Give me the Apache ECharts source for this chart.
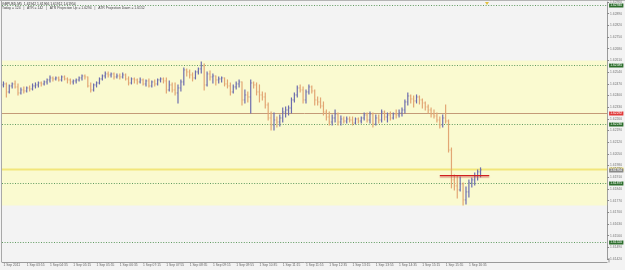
<!DOCTYPE html>
<html><head><meta charset="utf-8">
<script src="https://cdn.jsdelivr.net/npm/echarts/dist/echarts.min.js"></script>
<style>html,body{margin:0;padding:0;background:#f3f3f3;}#c{width:625px;height:270px;}</style>
</head><body><div id="c"></div>
<script>
const symbolLine = 'GBPUSD,M5  1.61942 1.61966 1.61912 1.61954';
const infoLine = 'Today = 124   |   ATR = 142   |   ATR Projection Up = 1.6294   |   ATR Projection Down = 1.6152';
const tickLabels = ['1 Sep 2011','1 Sep 03:55','1 Sep 04:35','1 Sep 05:15','1 Sep 05:55','1 Sep 06:35','1 Sep 07:15','1 Sep 07:55','1 Sep 08:35','1 Sep 09:15','1 Sep 09:55','1 Sep 10:35','1 Sep 11:15','1 Sep 11:55','1 Sep 12:35','1 Sep 13:15','1 Sep 13:55','1 Sep 14:35','1 Sep 15:15','1 Sep 15:55','1 Sep 16:35'];
const firstBarTime = '03:15';
const barMinutes = 5;
const emptySlots = 43;
// OHLC: [open, high, low, close]
const bars = [
[1.62463,1.62481,1.62451,1.62469],[1.62469,1.62475,1.62391,1.62421],[1.62421,1.62463,1.62415,1.62457],[1.62457,1.62475,1.62445,1.62469],
[1.62469,1.62487,1.62445,1.62451],[1.62451,1.62469,1.62403,1.62415],[1.62415,1.62445,1.62409,1.62433],[1.62433,1.62451,1.62415,1.62427],
[1.62427,1.62451,1.62421,1.62445],[1.62445,1.62457,1.62427,1.62439],[1.62439,1.62469,1.62433,1.62457],[1.62457,1.62475,1.62445,1.62463],
[1.62463,1.62481,1.62451,1.62475],[1.62475,1.62481,1.62457,1.62469],[1.62469,1.62487,1.62463,1.62481],[1.62481,1.62499,1.62469,1.62493],
[1.62493,1.62517,1.62481,1.62505],[1.62505,1.62511,1.62487,1.62499],[1.62499,1.62511,1.62493,1.62505],[1.62505,1.62511,1.62487,1.62493],
[1.62493,1.62517,1.62487,1.62511],[1.62511,1.62517,1.62493,1.62499],[1.62499,1.62505,1.62475,1.62493],[1.62493,1.62499,1.62469,1.62481],
[1.62481,1.62493,1.62469,1.62487],[1.62487,1.62499,1.62475,1.62493],[1.62493,1.62511,1.62487,1.62505],[1.62505,1.62523,1.62493,1.62517],
[1.62517,1.62523,1.62499,1.62511],[1.62511,1.62511,1.62451,1.62457],[1.62457,1.62475,1.62421,1.62433],[1.62433,1.62469,1.62427,1.62463],
[1.62463,1.62481,1.62451,1.62475],[1.62475,1.62505,1.62469,1.62499],[1.62499,1.62523,1.62493,1.62517],[1.62517,1.62541,1.62505,1.62529],
[1.62529,1.62541,1.62511,1.62523],[1.62523,1.62535,1.62511,1.62529],[1.62529,1.62535,1.62499,1.62511],[1.62511,1.62529,1.62505,1.62517],
[1.62517,1.62529,1.62499,1.62511],[1.62511,1.62535,1.62505,1.62523],[1.62523,1.62529,1.62493,1.62499],[1.62499,1.62511,1.62463,1.62475],
[1.62475,1.62505,1.62469,1.62499],[1.62499,1.62505,1.62475,1.62493],[1.62493,1.62499,1.62469,1.62481],[1.62481,1.62505,1.62475,1.62493],
[1.62493,1.62499,1.62463,1.62469],[1.62469,1.62493,1.62457,1.62487],[1.62487,1.62499,1.62451,1.62457],[1.62457,1.62487,1.62451,1.62481],
[1.62481,1.62493,1.62457,1.62469],[1.62469,1.62499,1.62463,1.62493],[1.62493,1.62505,1.62481,1.62499],[1.62499,1.62505,1.62475,1.62487],
[1.62487,1.62505,1.62415,1.62433],[1.62433,1.62487,1.62427,1.62463],[1.62463,1.62475,1.62421,1.62433],[1.62433,1.62475,1.62403,1.62415],
[1.62415,1.62463,1.62355,1.62445],[1.62445,1.62493,1.62427,1.62481],[1.62481,1.62565,1.62463,1.62553],[1.62553,1.62559,1.62517,1.62541],
[1.62541,1.62553,1.62505,1.62523],[1.62523,1.62535,1.62487,1.62505],[1.62505,1.62547,1.62499,1.62541],[1.62541,1.62565,1.62529,1.62559],
[1.62559,1.62601,1.62535,1.62577],[1.62577,1.62589,1.62433,1.62463],[1.62463,1.62541,1.62457,1.62529],[1.62529,1.62547,1.62493,1.62511],
[1.62511,1.62529,1.62475,1.62517],[1.62517,1.62517,1.62463,1.62493],[1.62493,1.62511,1.62475,1.62499],[1.62499,1.62511,1.62481,1.62505],
[1.62505,1.62505,1.62457,1.62469],[1.62469,1.62493,1.62445,1.62457],[1.62457,1.62475,1.62403,1.62421],[1.62421,1.62463,1.62415,1.62451],
[1.62451,1.62481,1.62439,1.62469],[1.62469,1.62493,1.62451,1.62481],[1.62481,1.62481,1.62343,1.62373],[1.62373,1.62433,1.62355,1.62403],
[1.62403,1.62421,1.62361,1.62391],[1.62391,1.62493,1.62295,1.62475],[1.62475,1.62481,1.62445,1.62463],[1.62463,1.62475,1.62403,1.62421],
[1.62421,1.62463,1.62361,1.62403],[1.62403,1.62421,1.62373,1.62391],[1.62391,1.62415,1.62325,1.62343],[1.62343,1.62355,1.62253,1.62265],
[1.62265,1.62301,1.62193,1.62223],[1.62223,1.62295,1.62193,1.62253],[1.62253,1.62271,1.62211,1.62241],[1.62241,1.62283,1.62217,1.62265],
[1.62265,1.62325,1.62241,1.62301],[1.62301,1.62331,1.62271,1.62313],[1.62313,1.62337,1.62283,1.62325],[1.62325,1.62385,1.62295,1.62373],
[1.62373,1.62415,1.62361,1.62403],[1.62403,1.62457,1.62391,1.62445],[1.62445,1.62463,1.62421,1.62433],[1.62433,1.62451,1.62355,1.62373],
[1.62373,1.62433,1.62355,1.62421],[1.62421,1.62463,1.62409,1.62451],[1.62451,1.62457,1.62415,1.62427],[1.62427,1.62433,1.62343,1.62373],
[1.62373,1.62391,1.62343,1.62361],[1.62361,1.62385,1.62325,1.62337],[1.62337,1.62361,1.62283,1.62301],[1.62301,1.62313,1.62253,1.62271],
[1.62271,1.62301,1.62223,1.62241],[1.62241,1.62283,1.62223,1.62265],[1.62265,1.62313,1.62241,1.62289],[1.62289,1.62295,1.62223,1.62241],
[1.62241,1.62277,1.62223,1.62259],[1.62259,1.62271,1.62235,1.62247],[1.62247,1.62271,1.62235,1.62259],[1.62259,1.62271,1.62241,1.62253],
[1.62253,1.62271,1.62223,1.62235],[1.62235,1.62265,1.62229,1.62259],[1.62259,1.62265,1.62235,1.62247],[1.62247,1.62271,1.62235,1.62265],
[1.62265,1.62295,1.62253,1.62283],[1.62283,1.62295,1.62241,1.62253],[1.62253,1.62301,1.62235,1.62289],[1.62289,1.62295,1.62211,1.62229],
[1.62229,1.62283,1.62223,1.62265],[1.62265,1.62283,1.62235,1.62253],[1.62253,1.62313,1.62241,1.62301],[1.62301,1.62307,1.62253,1.62271],
[1.62271,1.62295,1.62241,1.62283],[1.62283,1.62301,1.62253,1.62265],[1.62265,1.62295,1.62259,1.62289],[1.62289,1.62313,1.62265,1.62283],
[1.62283,1.62313,1.62271,1.62295],[1.62295,1.62325,1.62277,1.62313],[1.62313,1.62373,1.62295,1.62361],[1.62361,1.62415,1.62343,1.62397],
[1.62397,1.62403,1.62355,1.62379],[1.62379,1.62397,1.62331,1.62367],[1.62367,1.62403,1.62355,1.62391],[1.62391,1.62397,1.62349,1.62373],
[1.62373,1.62379,1.62325,1.62355],[1.62355,1.62361,1.62313,1.62331],[1.62331,1.62343,1.62295,1.62313],[1.62313,1.62325,1.62271,1.62289],
[1.62289,1.62313,1.62265,1.62277],[1.62277,1.62295,1.62241,1.62253],[1.62253,1.62271,1.62205,1.62223],[1.62223,1.62283,1.62211,1.62265],
[1.62265,1.62343,1.62235,1.62247],[1.62247,1.62253,1.62061,1.62073],[1.62073,1.62085,1.61846,1.61894],[1.61894,1.61924,1.61834,1.61858],
[1.61858,1.61918,1.61786,1.61834],[1.61834,1.61912,1.61828,1.61870],[1.61870,1.61876,1.61744,1.61774],[1.61774,1.61852,1.61750,1.61822],
[1.61822,1.61894,1.61792,1.61876],[1.61876,1.61906,1.61852,1.61894],[1.61894,1.61936,1.61864,1.61918],[1.61918,1.61954,1.61894,1.61942],
[1.61942,1.61966,1.61912,1.61954]
];
// horizontal levels
const atrLevels = [1.6294, 1.62585, 1.6223, 1.61875, 1.6152];
const brownLevel = 1.62292;
const yellowLevel = 1.6196;
const bid = 1.61954;
const bandTop = 1.6261, bandBottom = 1.6174;
const redSegLevel = 1.6192, redSegFrom = 150, redSegTo = 167;
const yMin = 1.6142, yMax = 1.6296, yStep = 0.0007;

const UP = '#6c6cae', DOWN = '#e2a674';
const FONT = 'Liberation Sans';

const cats = [];
{
  let [h, m] = firstBarTime.split(':').map(Number);
  for (let i = 0; i < bars.length; i++) {
    cats.push(String(h).padStart(2,'0') + ':' + String(m).padStart(2,'0'));
    m += barMinutes; if (m >= 60) { m -= 60; h += 1; }
  }
  for (let i = 0; i < emptySlots; i++) cats.push('');
}
const showTick = (idx, val) => idx % 8 === 0 && val !== '';

const levelRows = atrLevels.map(v => [v, 0]).concat([[brownLevel, 1], [yellowLevel, 2], [bid, 3]]);
const levelStyles = [
  {line: true, color: '#5f9a5f', width: 1, dash: [1, 1.6], bg: '#2d6e2d', fg: '#fff'},
  {line: true, color: '#c49a78', width: 1, dash: null, bg: '#e03a3a', fg: '#fff'},
  {line: true, color: '#f2e67a', width: 2, dash: null, bg: '#f0e060', fg: '#666'},
  {line: false, bg: '#8a8a8a', fg: '#fff'}
];

const chart = echarts.init(document.getElementById('c'), null, {renderer: 'canvas'});
chart.setOption({
  animation: false,
  backgroundColor: '#f3f3f3',
  grid: {left: 2, right: 16, top: 2, bottom: 11, show: false},
  xAxis: {
    type: 'category', data: cats, boundaryGap: true, offset: 3,
    axisLine: {lineStyle: {color: '#9a9a9a', width: 1}},
    axisTick: {interval: showTick, alignWithLabel: true, length: 2.5, lineStyle: {color: '#888'}},
    axisLabel: {interval: showTick, formatter: (v, i) => tickLabels[i / 8] || '', align: 'left', margin: 2, fontSize: 3.3, fontFamily: FONT, color: '#666'},
    splitLine: {show: false}
  },
  yAxis: {
    type: 'value', position: 'right', min: yMin, max: yMax, interval: yStep, scale: true,
    axisLine: {show: true, lineStyle: {color: '#9a9a9a'}},
    axisTick: {show: true, length: 2, lineStyle: {color: '#888'}},
    axisLabel: {formatter: v => v.toFixed(5), fontSize: 3.3, fontFamily: FONT, color: '#777', margin: 3},
    splitLine: {show: false}
  },
  graphic: [
    {type: 'rect', shape: {x: 0, y: 0, width: 625, height: 1}, style: {fill: '#b4b4b4'}, silent: true},
    {type: 'rect', shape: {x: 1, y: 1, width: 1, height: 261}, style: {fill: '#a8a8a8'}, silent: true},
    {type: 'rect', shape: {x: 608.5, y: 258, width: 1, height: 4.5}, style: {fill: '#9a9a9a'}, silent: true},
    {type: 'text', left: 2, top: 2.4, style: {text: symbolLine, fontSize: 3.4, fontFamily: FONT, fill: '#333'}, z: 100},
    {type: 'text', left: 2, top: 6.4, style: {text: infoLine, fontSize: 3.4, fontFamily: FONT, fill: '#444'}, z: 100},
    {type: 'polygon', shape: {points: [[485, 2], [489, 2], [487, 5]]}, style: {fill: '#e0c040'}, z: 100}
  ],
  series: [
    {
      type: 'custom', name: 'GBPUSD',
      data: bars.map((b, i) => [i, b[0], b[1], b[2], b[3]]),
      encode: {x: 0, y: [1, 2, 3, 4]},
      clip: true, z: 5,
      renderItem: function (params, api) {
        const i = api.value(0);
        const o = api.coord([i, api.value(1)]), hi = api.coord([i, api.value(2)]);
        const lo = api.coord([i, api.value(3)]), c = api.coord([i, api.value(4)]);
        const col = api.value(4) >= api.value(1) ? UP : DOWN;
        const x = hi[0];
        return {type: 'group', children: [
          {type: 'line', shape: {x1: x, y1: hi[1] - 0.5, x2: x, y2: lo[1] + 0.5}, style: {stroke: col, lineWidth: 1.2}},
          {type: 'line', shape: {x1: x - 1.2, y1: o[1], x2: x, y2: o[1]}, style: {stroke: col, lineWidth: 1, opacity: 0.6}},
          {type: 'line', shape: {x1: x, y1: c[1], x2: x + 1.2, y2: c[1]}, style: {stroke: col, lineWidth: 1, opacity: 0.6}}
        ]};
      },
      markArea: {
        silent: true, z: 1,
        itemStyle: {color: '#fafad0'},
        data: [[{yAxis: bandTop}, {yAxis: bandBottom}]]
      }
    },
    {
      type: 'custom', name: 'levels',
      data: levelRows,
      encode: {y: 0},
      z: 4, clip: false, silent: true,
      renderItem: function (params, api) {
        const cs = params.coordSys;
        const v = api.value(0);
        const s = levelStyles[api.value(1)];
        const y = Math.round(api.coord([0, v])[1]) + 0.5;
        const ch = [];
        if (s.line) ch.push({type: 'line', shape: {x1: cs.x, y1: y, x2: cs.x + cs.width, y2: y}, style: {stroke: s.color, lineWidth: s.width, lineDash: s.dash}});
        ch.push({type: 'text', x: cs.x + cs.width + 2, y: y, z2: 10, style: {text: v.toFixed(5), fill: s.fg, backgroundColor: s.bg, padding: [0.6, 1.2, 0.4, 1.2], fontSize: 3.3, fontFamily: FONT, verticalAlign: 'middle', align: 'left'}});
        return {type: 'group', children: ch};
      }
    },
    {
      type: 'line', name: 'segment',
      data: [[redSegFrom, redSegLevel], [redSegTo, redSegLevel]],
      symbol: 'none', z: 6, silent: true,
      lineStyle: {color: '#d02020', width: 1.2, shadowColor: 'rgba(200,80,80,0.5)', shadowOffsetY: 1.5, shadowBlur: 1}
    }
  ]
});
</script></body></html>
